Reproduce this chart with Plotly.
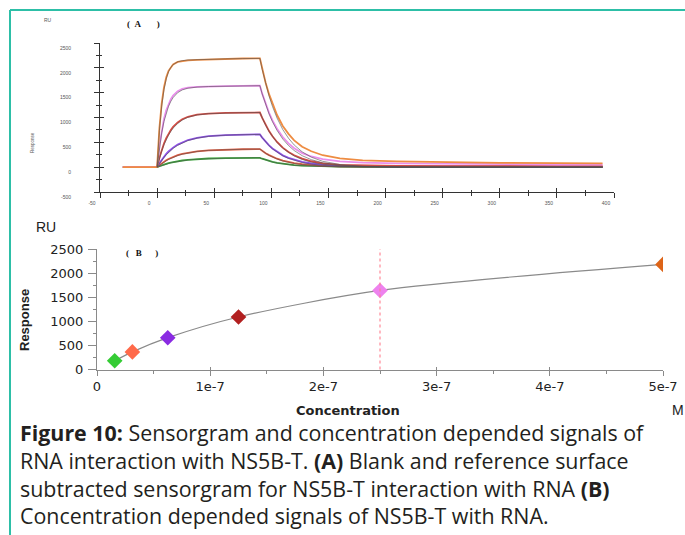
import plotly.graph_objects as go

W, H = 685, 535
OX, OY = 0, 0

# ---------------- Panel A: sensorgram data ----------------
T_MEAS = [-30, 0, 2, 4, 6, 8, 10, 12, 14, 18, 22, 27, 35, 45, 60, 75, 90,
          92, 95, 98, 101, 105, 110, 115, 120, 127, 135, 145, 160, 180, 210, 250, 300, 350, 390]
T_FIT = [0, 2, 4, 6, 8, 10, 12, 14, 18, 22, 27, 35, 45, 60, 75, 90,
         92, 95, 98, 101, 105, 110, 115, 120, 127, 135, 145, 160, 180, 210, 250, 300, 350, 390]

# measured responses (RU), highest concentration first
RESP_1 = [0, 0, 780, 1280, 1605, 1810, 1940, 2020, 2070, 2120, 2140, 2150, 2160, 2170, 2180, 2188, 2192,
          1980, 1700, 1470, 1270, 1050, 830, 670, 540, 410, 320, 240, 175, 135, 115, 98, 87, 80, 76]
RESP_2 = [0, 0, 425, 740, 973, 1147, 1274, 1369, 1440, 1530, 1575, 1600, 1615, 1625, 1632, 1637, 1640,
          1480, 1272, 1093, 942, 774, 607, 480, 380, 283, 215, 160, 115, 90, 75, 65, 58, 54, 52]
RESP_3 = [0, 0, 190, 348, 477, 585, 675, 748, 810, 901, 964, 1015, 1060, 1080, 1092, 1097, 1100,
          991, 848, 726, 623, 508, 394, 307, 240, 172, 119, 78, 46, 32, 26, 22, 20, 19, 18]
RESP_4 = [0, 0, 80, 151, 213, 267, 315, 358, 394, 455, 502, 546, 592, 625, 647, 655, 660,
          595, 510, 437, 375, 307, 238, 187, 147, 106, 74, 50, 30, 21, 17, 15, 14, 13, 12]
RESP_5 = [0, 0, 41, 78, 110, 139, 165, 187, 207, 241, 268, 293, 320, 340, 355, 361, 365,
          329, 282, 242, 208, 170, 133, 104, 82, 60, 43, 29, 18, 13, 11, 10, 9, 9, 8]
RESP_6 = [0, 0, 20, 38, 55, 69, 82, 93, 103, 121, 134, 148, 162, 174, 182, 185, 188,
          170, 145, 125, 107, 88, 68, 54, 42, 31, 22, 15, 9, 7, 6, 5, 5, 4, 4]

# fitted curves (RU)
FIT_1 = [0, 740, 1230, 1560, 1780, 1920, 2010, 2065, 2120, 2145, 2158, 2166, 2172, 2180, 2186, 2190,
         1969, 1680, 1432, 1222, 990, 758, 583, 447, 309, 201, 118, 54, 19, 4, 0, 0, 0, 0]
FIT_2 = [0, 390, 690, 920, 1095, 1225, 1325, 1400, 1500, 1555, 1590, 1612, 1624, 1632, 1637, 1640,
         1474, 1258, 1073, 915, 741, 567, 436, 335, 231, 151, 89, 40, 14, 3, 0, 0, 0, 0]
FIT_3 = [0, 175, 325, 450, 555, 645, 720, 785, 880, 948, 1005, 1052, 1078, 1092, 1097, 1100,
         989, 844, 719, 614, 497, 381, 293, 224, 155, 101, 59, 27, 9, 2, 0, 0, 0, 0]
FIT_4 = [0, 72, 138, 197, 250, 297, 340, 377, 440, 490, 536, 585, 620, 645, 655, 660,
         593, 506, 432, 368, 298, 228, 176, 135, 93, 61, 36, 16, 6, 1, 0, 0, 0, 0]
FIT_5 = [0, 36, 70, 101, 129, 155, 178, 199, 234, 262, 289, 317, 338, 354, 361, 365,
         328, 280, 239, 204, 165, 126, 97, 74, 51, 34, 20, 9, 3, 1, 0, 0, 0, 0]
FIT_6 = [0, 17, 34, 50, 64, 77, 89, 99, 117, 131, 145, 160, 173, 181, 185, 188,
         169, 144, 123, 105, 85, 65, 50, 38, 27, 18, 10, 5, 2, 0, 0, 0, 0, 0]

A_XTICKS = [-50, 0, 50, 100, 150, 200, 250, 300, 350, 400]
A_XTICK_LABELS = ["-50", "0", "50", "100", "150", "200", "250", "300", "350", "400"]
A_YTICKS = [-500, 0, 500, 1000, 1500, 2000, 2500]
A_YTICK_LABELS = ["-500", "0", "500", "1000", "1500", "2000", "2500"]

# ---------------- Panel B: steady-state data ----------------
CONC = [1.5625e-8, 3.125e-8, 6.25e-8, 1.25e-7, 2.5e-7, 5e-7]
RESP_EQ = [180, 365, 660, 1090, 1640, 2180]
KD = 2.5e-7
B_XTICKS = [0, 1e-7, 2e-7, 3e-7, 4e-7, 5e-7]
B_XTICK_LABELS = ["0", "1e-7", "2e-7", "3e-7", "4e-7", "5e-7"]
B_YTICKS = [0, 500, 1000, 1500, 2000, 2500]
B_YTICK_LABELS = ["0", "500", "1000", "1500", "2000", "2500"]

CURVE_COLORS = ["#EE8C42", "#EA8EEC", "#D64C44", "#9050EC", "#E65E42", "#3AAA3A"]
MARKER_COLORS = ["#35CC35", "#FF6A4A", "#8A2BE2", "#B22020", "#EE82EE", "#DD6418"]

resp = [RESP_1, RESP_2, RESP_3, RESP_4, RESP_5, RESP_6]
fits = [FIT_1, FIT_2, FIT_3, FIT_4, FIT_5, FIT_6]

fig = go.Figure()

for i in reversed(range(6)):
    fig.add_trace(go.Scatter(x=T_MEAS, y=resp[i], mode="lines", xaxis="x", yaxis="y",
                             line=dict(color=CURVE_COLORS[i], width=1.8), showlegend=False,
                             hoverinfo="skip"))
for i in reversed(range(6)):
    fig.add_trace(go.Scatter(x=T_FIT, y=fits[i], mode="lines", xaxis="x", yaxis="y",
                             line=dict(color="#505050", width=0.6), showlegend=False,
                             hoverinfo="skip"))

# overlay axes (for crossing ticks)
fig.add_trace(go.Scatter(x=[], y=[], xaxis="x3", yaxis="y", showlegend=False))
fig.add_trace(go.Scatter(x=[], y=[], xaxis="x", yaxis="y3", showlegend=False))
fig.add_trace(go.Scatter(x=[], y=[], xaxis="x4", yaxis="y2", showlegend=False))

# Panel B fit line and points
fig.add_trace(go.Scatter(x=CONC, y=RESP_EQ, mode="lines", xaxis="x2", yaxis="y2",
                         line=dict(color="#8a8a8a", width=1.2, shape="spline", smoothing=0.8),
                         showlegend=False, hoverinfo="skip"))
fig.add_trace(go.Scatter(x=CONC, y=RESP_EQ, mode="markers", xaxis="x2", yaxis="y2",
                         marker=dict(symbol="diamond", size=12, color=MARKER_COLORS,
                                     line=dict(width=0)),
                         showlegend=False))

def px(x):
    return (x - OX) / W

def py(y):
    return 1 - (y - OY) / H

tiny = dict(family="Liberation Sans, Arial", size=5, color="#555555")
axA = dict(showgrid=False, zeroline=False, showline=True, linecolor="#333333", linewidth=1,
           tickcolor="#333333", tickwidth=1, tickfont=tiny, automargin=False)
noax = dict(showgrid=False, zeroline=False, showline=False, showticklabels=False,
            automargin=False, tickmode="array")

fig.update_layout(
    template=None,
    width=W, height=H, autosize=False,
    margin=dict(l=0, r=0, t=0, b=0, pad=0, autoexpand=False),
    paper_bgcolor="white", plot_bgcolor="white",
    xaxis=dict(domain=[px(100), px(614)], range=[-50, 400], anchor="y",
               tickmode="array", tickvals=A_XTICKS, ticktext=A_XTICK_LABELS,
               ticks="outside", ticklen=5, ticklabelshift=-8, ticklabelstandoff=1,
               minor=dict(ticks="outside", ticklen=3, dtick=25, tick0=-50, tickcolor="#333333"),
               **axA),
    yaxis=dict(domain=[py(192), py(43)], range=[-500, 2500], anchor="x",
               tickmode="array", tickvals=A_YTICKS, ticktext=A_YTICK_LABELS,
               ticks="outside", ticklen=5, ticklabelshift=5, ticklabelstandoff=22,
               minor=dict(ticks="outside", ticklen=3, dtick=250, tick0=-500, tickcolor="#333333"),
               **axA),
    xaxis3=dict(overlaying="x", anchor="y", range=[-50, 400], tickvals=A_XTICKS,
                ticks="inside", ticklen=4, tickcolor="#333333",
                minor=dict(ticks="inside", ticklen=2, dtick=25, tick0=-50, tickcolor="#333333"),
                **noax),
    yaxis3=dict(overlaying="y", anchor="x", range=[-500, 2500], tickvals=A_YTICKS,
                ticks="inside", ticklen=4, tickcolor="#333333",
                minor=dict(ticks="inside", ticklen=2, dtick=250, tick0=-500, tickcolor="#333333"),
                **noax),
    xaxis2=dict(domain=[px(97), px(663)], range=[0, 5e-7], anchor="y2", automargin=False,
                showgrid=False, zeroline=False, showline=True, linecolor="#8a8a8a", linewidth=1,
                tickmode="array", tickvals=B_XTICKS, ticktext=B_XTICK_LABELS,
                ticks="outside", ticklen=5, tickcolor="#8a8a8a",
                tickfont=dict(family="DejaVu Sans", size=13, color="#222222"),
                minor=dict(ticks="outside", ticklen=3, dtick=5e-8, tick0=0, tickcolor="#8a8a8a")),
    xaxis4=dict(overlaying="x2", anchor="y2", range=[0, 5e-7], tickvals=B_XTICKS,
                ticks="inside", ticklen=3, tickcolor="#8a8a8a", **noax),
    yaxis2=dict(domain=[py(369.5), py(249)], range=[0, 2500], anchor="x2", automargin=False,
                showgrid=False, zeroline=False, showline=True, linecolor="#8a8a8a", linewidth=1,
                tickmode="array", tickvals=B_YTICKS, ticktext=B_YTICK_LABELS,
                ticks="outside", ticklen=8, tickcolor="#8a8a8a", ticklabelstandoff=2,
                tickfont=dict(family="DejaVu Sans", size=13, color="#222222"),
                minor=dict(ticks="outside", ticklen=3, dtick=250, tick0=0, tickcolor="#8a8a8a")),
)

# KD marker line
fig.add_shape(type="line", xref="x2", yref="y2 domain", x0=KD, x1=KD, y0=0, y1=1,
              line=dict(color="#FF7F8F", width=1.1, dash="dot"))

# teal frame
teal = "#2DBFA7"
fig.add_shape(type="line", xref="paper", yref="paper", x0=px(10), x1=1, y0=py(10), y1=py(10),
              line=dict(color=teal, width=2))
fig.add_shape(type="line", xref="paper", yref="paper", x0=px(10), x1=px(10), y0=py(10), y1=0,
              line=dict(color=teal, width=2))

def ann(text, x, y, font, xanchor="center", yanchor="middle", angle=0, align="center"):
    fig.add_annotation(text=text, x=px(x), y=py(y), xref="paper", yref="paper",
                       showarrow=False, xanchor=xanchor, yanchor=yanchor, font=font,
                       textangle=angle, align=align)

NB = "\u00a0"
serif_b = dict(family="Liberation Serif, Times New Roman", size=9, color="#111111")
ann("<b>(" + NB * 2 + "A" + NB * 7 + ")</b>", 143, 24, serif_b)
ann("<b>(" + NB * 3 + "B" + NB * 6 + ")</b>", 142, 253, serif_b)

ann("RU", 48, 20, dict(family="Liberation Sans, Arial", size=5, color="#555555"))
ann("Response", 32, 142, dict(family="Liberation Sans, Arial", size=4.5, color="#555555"), angle=-90)

ann("RU", 46, 227, dict(family="Liberation Sans, Arial", size=14, color="#222222"))
ann("<b>Response</b>", 24, 320, dict(family="Liberation Sans, Arial", size=13, color="#222222"), angle=-90)
ann("<b>Concentration</b>", 348, 410, dict(family="DejaVu Sans", size=13, color="#222222"))
ann("M", 678, 410, dict(family="Liberation Sans, Arial", size=14, color="#222222"))

cap = dict(family="Open Sans", size=21.4, color="#231F20")
CAPTION = [
    "<b>Figure 10:</b> Sensorgram and concentration depended signals of",
    "RNA interaction with NS5B-T. <b>(A)</b> Blank and reference surface",
    "subtracted sensorgram for NS5B-T interaction with RNA <b>(B)</b>",
    "Concentration depended signals of NS5B-T with RNA.",
]
ann("<br>".join(CAPTION), 18, 416, cap, xanchor="left", yanchor="top", align="left")

fig.write_html("out.html", config={"displayModeBar": False},
               post_script="document.body.style.margin='0';document.body.style.overflow='hidden';")
